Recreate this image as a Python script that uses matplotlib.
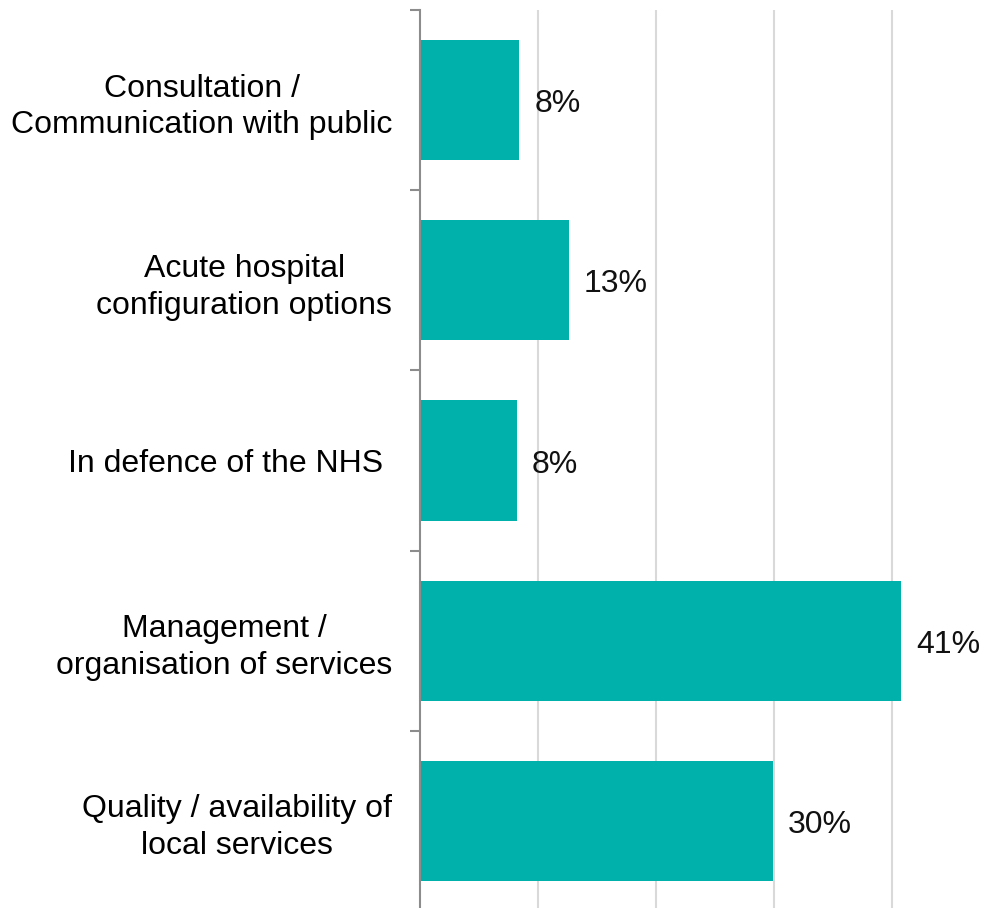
import matplotlib.pyplot as plt
import numpy as np

plt.rcParams['font.family'] = ['Liberation Sans', 'DejaVu Sans']

categories = [
    'Consultation /\nCommunication with public',
    'Acute hospital\nconfiguration options',
    'In defence of the NHS ',
    'Management /\norganisation of services',
    'Quality / availability of\nlocal services',
]
values = [8.4, 12.6, 8.2, 40.8, 29.9]
labels = ['8%', '13%', '8%', '41%', '30%']

bar_color = '#00B0AA'
grid_color = '#D9D9D9'
axis_color = '#8C8C8C'

fig = plt.figure(figsize=(10.05, 9.08), dpi=100)
ax = fig.add_axes([420 / 1005, -3 / 908, 1 - 420 / 1005, 901 / 908])

y = np.arange(len(categories))
ax.barh(y, values, height=0.667, color=bar_color, zorder=3)
ax.set_ylim(len(categories) - 0.5, -0.5)
ax.set_xlim(0, 49.6)

for yi, v, lab in zip(y, values, labels):
    ax.annotate(lab, (v, yi), xytext=(11, -3), textcoords='offset points',
                va='center', ha='left', fontsize=23, color='#111111')

ax.set_yticks(y)
ax.set_yticklabels(categories, fontsize=23, multialignment='center',
                   linespacing=1.3)
ax.set_yticks(np.arange(-0.5, len(categories), 1), minor=True)
ax.tick_params(axis='y', which='major', length=0, pad=20)
ax.tick_params(axis='y', which='minor', length=7.2, width=1.5, color=axis_color)

ax.set_xticks([10, 20, 30, 40])
ax.tick_params(axis='x', length=0, labelbottom=False)
ax.grid(axis='x', color=grid_color, linewidth=1.5, zorder=0)

for s in ['top', 'right', 'bottom']:
    ax.spines[s].set_visible(False)
ax.spines['left'].set_color(axis_color)
ax.spines['left'].set_linewidth(1.5)
ax.spines['left'].set_zorder(4)

fig.savefig('out.png', dpi=100)
